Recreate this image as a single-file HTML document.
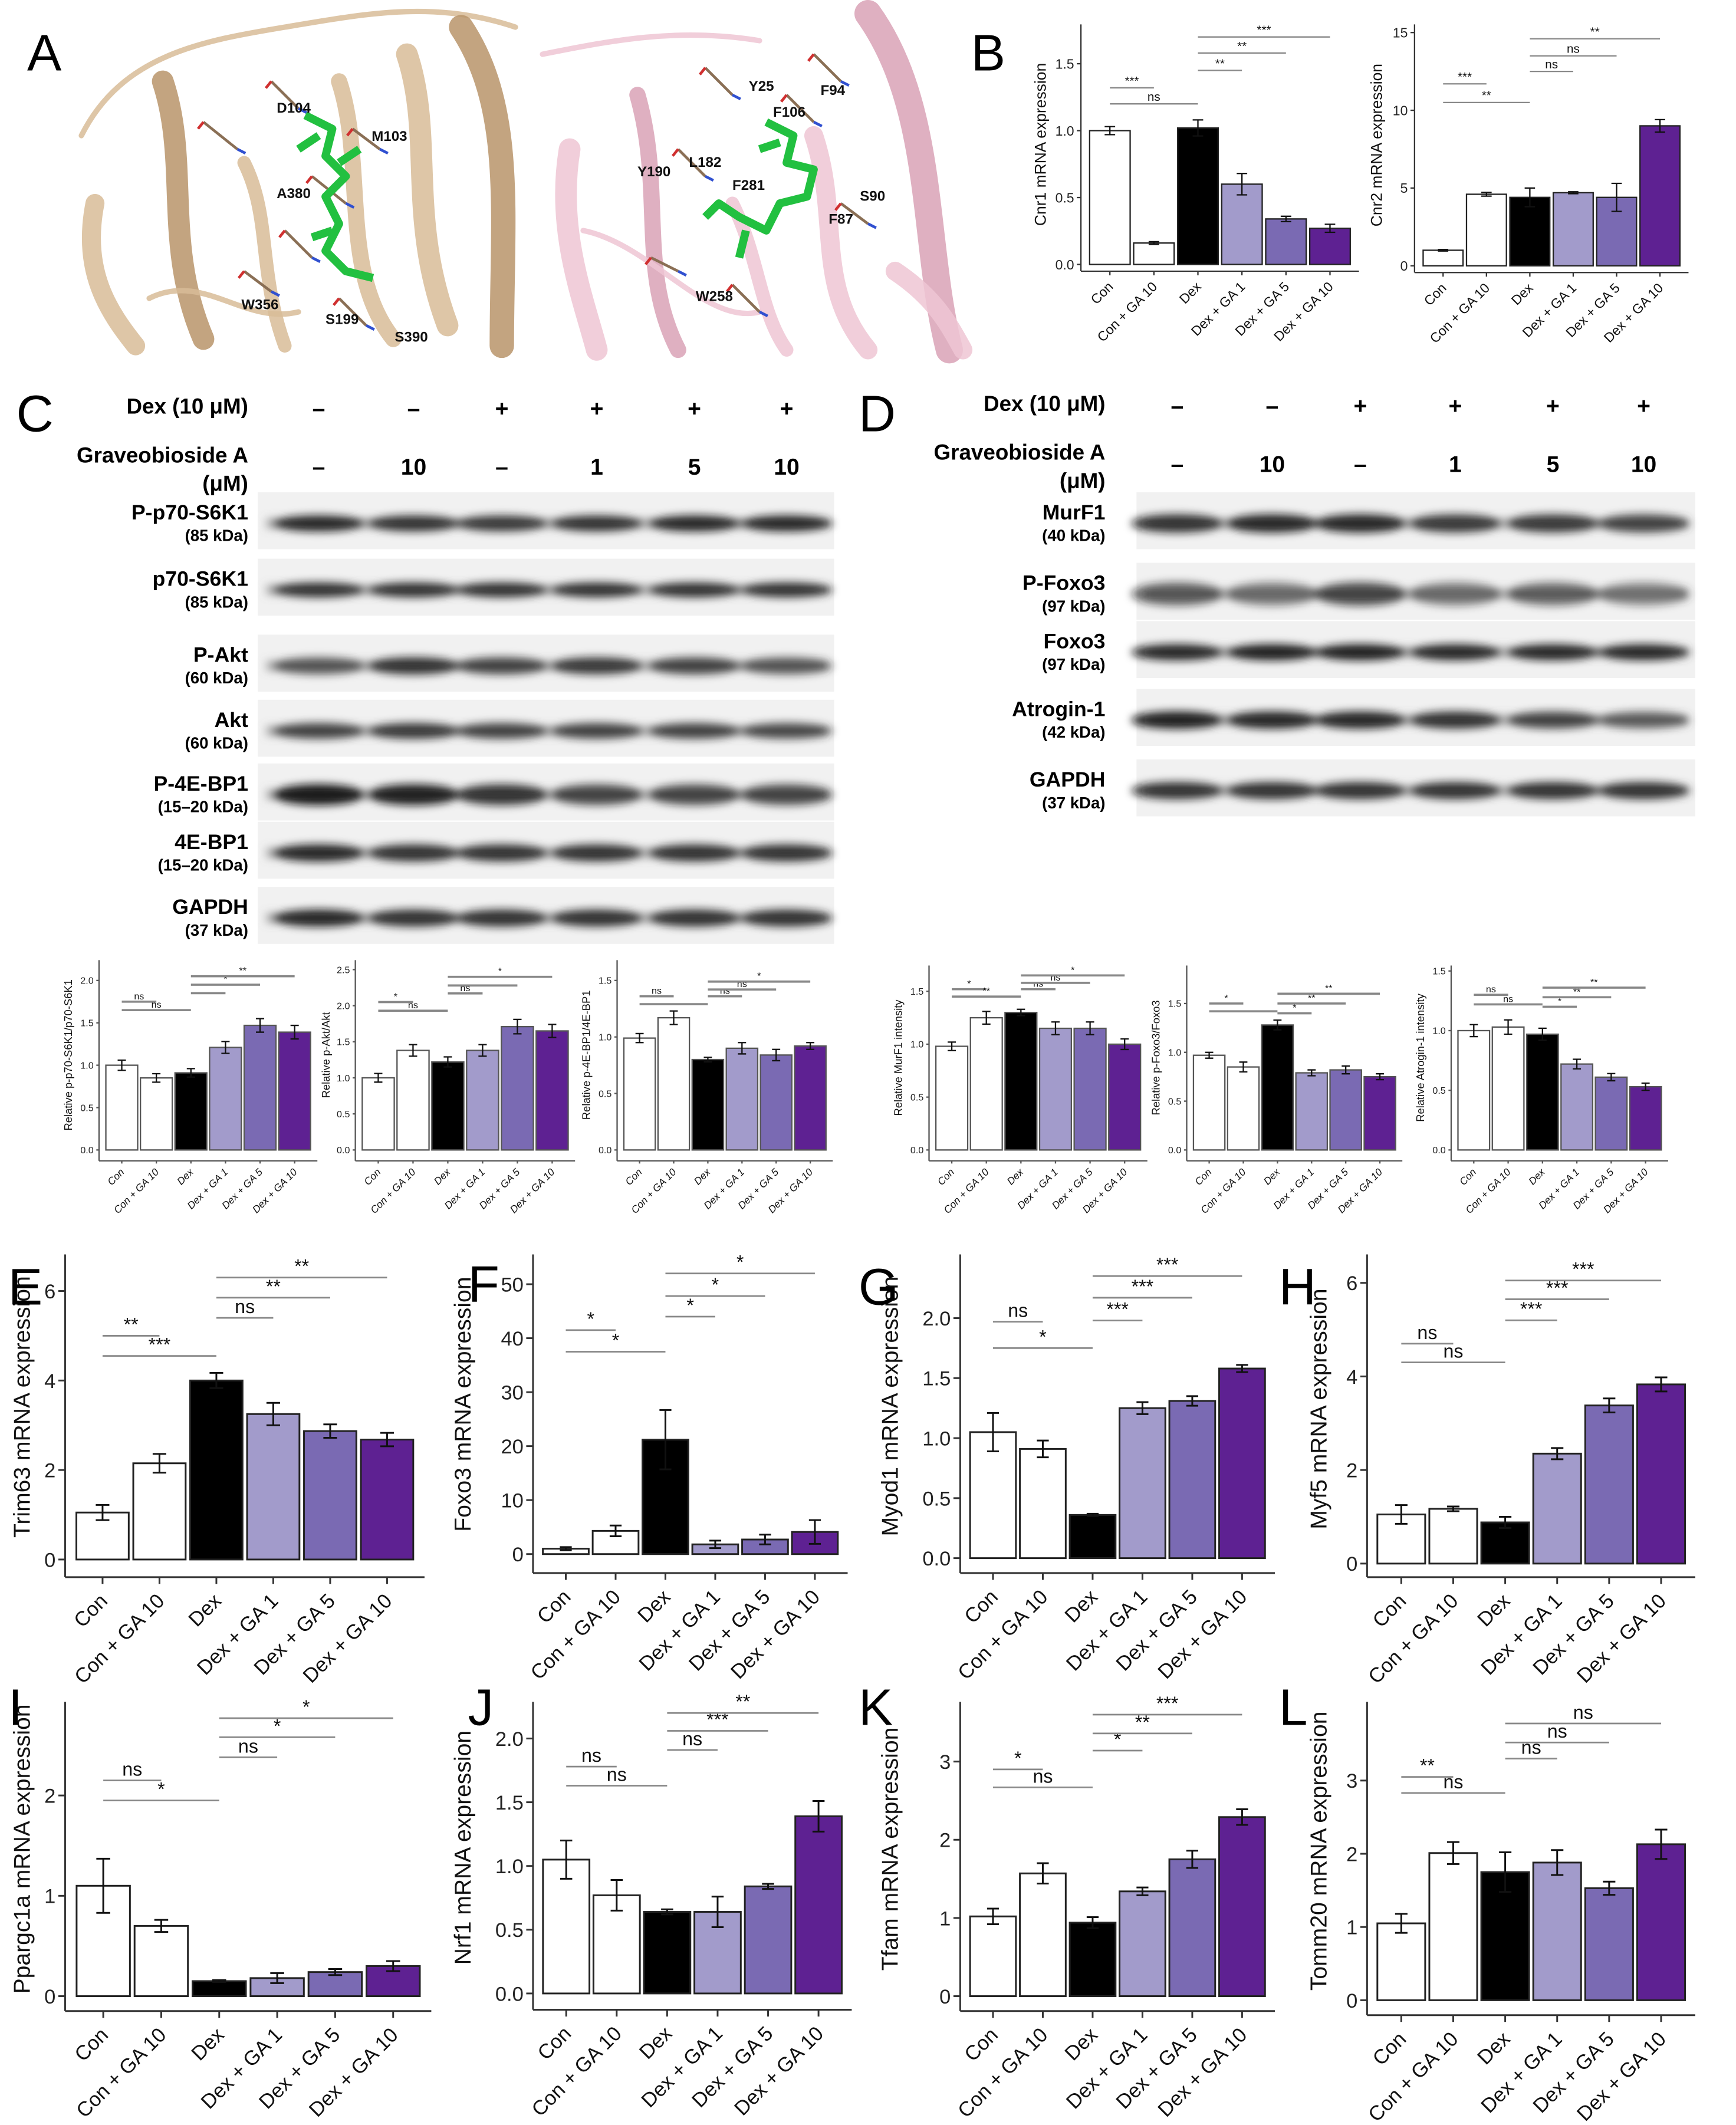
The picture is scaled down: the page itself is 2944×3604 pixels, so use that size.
<!DOCTYPE html>
<html><head><meta charset="utf-8"><style>
html,body{margin:0;padding:0;background:#fff}
svg{display:block}
text{font-family:"Liberation Sans",sans-serif}
</style></head><body>
<svg id="fig" xmlns="http://www.w3.org/2000/svg" width="2944" height="3604" viewBox="0 0 1280 1567">
<defs>
<filter id="blur3" x="-50%" y="-100%" width="200%" height="300%"><feGaussianBlur stdDeviation="3"/></filter>
</defs>
<rect width="1280" height="1567" fill="#fff"/>
<g id="panelA"></g>
<g id="blots"></g>
<g id="charts"></g>
<g id="letters"></g>
</svg>
<script>
const categories = ["Con","Con + GA 10","Dex","Dex + GA 1","Dex + GA 5","Dex + GA 10"];
const barColors = ["#ffffff","#ffffff","#000000","#a29bcb","#7a6ab3","#5e2192"];

// Panel B
const cnr1Values=[1.0,0.16,1.02,0.6,0.34,0.27];
const cnr1Errors=[0.03,0.01,0.06,0.08,0.02,0.03];
const cnr1Ticks=[0,0.5,1.0,1.5];
const cnr1Sig=[[0,1,1.32,"***"],[0,2,1.20,"ns"],[2,3,1.45,"**"],[2,4,1.58,"**"],[2,5,1.7,"***"]];
const cnr2Values=[1.0,4.6,4.4,4.7,4.4,9.0];
const cnr2Errors=[0.05,0.12,0.6,0.06,0.9,0.4];
const cnr2Ticks=[0,5,10,15];
const cnr2Sig=[[0,1,11.7,"***"],[0,2,10.5,"**"],[2,3,12.5,"ns"],[2,4,13.5,"ns"],[2,5,14.6,"**"]];
// Panel C quantification
const c1Values=[1.0,0.85,0.91,1.21,1.47,1.39];
const c1Errors=[0.06,0.05,0.05,0.07,0.08,0.08];
const c1Ticks=[0,0.5,1.0,1.5,2.0];
const c1Sig=[[0,1,1.75,"ns"],[0,2,1.65,"ns"],[2,3,1.85,""],[2,4,1.95,"*"],[2,5,2.05,"**"]];
const c2Values=[1.0,1.38,1.22,1.38,1.71,1.65];
const c2Errors=[0.06,0.08,0.07,0.08,0.1,0.09];
const c2Ticks=[0,0.5,1.0,1.5,2.0,2.5];
const c2Sig=[[0,1,2.05,"*"],[0,2,1.93,"ns"],[2,3,2.17,"ns"],[2,4,2.28,""],[2,5,2.4,"*"]];
const c3Values=[0.99,1.17,0.8,0.9,0.84,0.92];
const c3Errors=[0.04,0.06,0.02,0.05,0.05,0.03];
const c3Ticks=[0,0.5,1.0,1.5];
const c3Sig=[[0,1,1.36,"ns"],[0,2,1.29,""],[2,3,1.36,"ns"],[2,4,1.42,"ns"],[2,5,1.49,"*"]];
// Panel D quantification
const d1Values=[0.98,1.25,1.3,1.15,1.15,1.0];
const d1Errors=[0.04,0.06,0.03,0.06,0.06,0.05];
const d1Ticks=[0,0.5,1.0,1.5];
const d1Sig=[[0,1,1.52,"*"],[0,2,1.45,"**"],[2,3,1.52,"ns"],[2,4,1.58,"ns"],[2,5,1.65,"*"]];
const d2Values=[0.97,0.85,1.28,0.79,0.82,0.75];
const d2Errors=[0.03,0.05,0.05,0.03,0.04,0.03];
const d2Ticks=[0,0.5,1.0,1.5];
const d2Sig=[[0,1,1.5,"*"],[0,2,1.42,""],[2,3,1.4,"*"],[2,4,1.5,"**"],[2,5,1.6,"**"]];
const d3Values=[1.0,1.03,0.97,0.72,0.61,0.53];
const d3Errors=[0.05,0.06,0.05,0.04,0.03,0.03];
const d3Ticks=[0,0.5,1.0,1.5];
const d3Sig=[[0,1,1.3,"ns"],[0,2,1.22,"ns"],[2,3,1.2,"*"],[2,4,1.28,"**"],[2,5,1.36,"**"]];
// E-H
const eValues=[1.05,2.15,4.0,3.25,2.87,2.68];
const eErrors=[0.17,0.21,0.17,0.25,0.15,0.15];
const eTicks=[0,2,4,6];
const eSig=[[0,1,5.0,"**"],[0,2,4.55,"***"],[2,3,5.4,"ns"],[2,4,5.85,"**"],[2,5,6.3,"**"]];
const fValues=[1.0,4.3,21.2,1.8,2.7,4.1];
const fErrors=[0.3,1.0,5.5,0.7,0.9,2.2];
const fTicks=[0,10,20,30,40,50];
const fSig=[[0,1,41.5,"*"],[0,2,37.5,"*"],[2,3,44,"*"],[2,4,47.8,"*"],[2,5,52,"*"]];
const gValues=[1.05,0.91,0.36,1.25,1.31,1.58];
const gErrors=[0.16,0.07,0.01,0.05,0.04,0.03];
const gTicks=[0,0.5,1.0,1.5,2.0];
const gSig=[[0,1,1.97,"ns"],[0,2,1.75,"*"],[2,3,1.98,"***"],[2,4,2.17,"***"],[2,5,2.35,"***"]];
const hValues=[1.05,1.17,0.88,2.35,3.38,3.83];
const hErrors=[0.2,0.05,0.12,0.12,0.15,0.15];
const hTicks=[0,2,4,6];
const hSig=[[0,1,4.7,"ns"],[0,2,4.3,"ns"],[2,3,5.2,"***"],[2,4,5.65,"***"],[2,5,6.05,"***"]];
// I-L
const iValues=[1.1,0.7,0.15,0.18,0.24,0.3];
const iErrors=[0.27,0.06,0.01,0.05,0.03,0.05];
const iTicks=[0,1,2];
const iSig=[[0,1,2.15,"ns"],[0,2,1.95,"*"],[2,3,2.38,"ns"],[2,4,2.58,"*"],[2,5,2.77,"*"]];
const jValues=[1.05,0.77,0.64,0.64,0.84,1.39];
const jErrors=[0.15,0.12,0.02,0.12,0.02,0.12];
const jTicks=[0,0.5,1.0,1.5,2.0];
const jSig=[[0,1,1.78,"ns"],[0,2,1.63,"ns"],[2,3,1.91,"ns"],[2,4,2.06,"***"],[2,5,2.2,"**"]];
const kValues=[1.02,1.57,0.94,1.34,1.75,2.29];
const kErrors=[0.1,0.13,0.07,0.05,0.11,0.1];
const kTicks=[0,1,2,3];
const kSig=[[0,1,2.9,"*"],[0,2,2.67,"ns"],[2,3,3.14,"*"],[2,4,3.36,"**"],[2,5,3.6,"***"]];
const lValues=[1.05,2.01,1.75,1.88,1.53,2.13];
const lErrors=[0.13,0.15,0.27,0.17,0.09,0.2];
const lTicks=[0,1,2,3];
const lSig=[[0,1,3.05,"**"],[0,2,2.83,"ns"],[2,3,3.3,"ns"],[2,4,3.52,"ns"],[2,5,3.78,"ns"]];

const NS="http://www.w3.org/2000/svg";
function el(tag,attrs,parent,txt){const e=document.createElementNS(NS,tag);for(const k in attrs)e.setAttribute(k,attrs[k]);if(txt!==undefined)e.textContent=txt;parent.appendChild(e);return e;}
const chartsG=document.getElementById('charts');

function fmt(v,ticks){const dec=ticks.some(t=>t%1!==0);return dec?v.toFixed(1):String(v);}

function drawChart(name,L,values,errors,ticks,sigs,ylabel,S){
  const g=el('g',{},chartsG);
  
  
  const tmax=ticks[ticks.length-1];
  const ppu=(L.y0-L.ytop)/tmax;
  const Y=v=>L.y0-v*ppu;
  const pad=(L.right-L.ax)*0.025;
  const band=(L.right-L.ax-2*pad)/values.length;
  const X=i=>L.ax+pad+band*(i+0.5);
  const bw=band*0.92;
  const ac=S.axisColor||'#333';
  const ya=el('line',{x1:L.ax,y1:L.top,x2:L.ax,y2:L.bottom,stroke:ac,'stroke-width':S.aw},g);
  
  const xa=el('line',{x1:L.ax,y1:L.bottom,x2:L.right,y2:L.bottom,stroke:ac,'stroke-width':S.aw},g);
  
  ticks.forEach(t=>{
    el('line',{x1:L.ax-S.tl,y1:Y(t),x2:L.ax,y2:Y(t),stroke:ac,'stroke-width':S.aw},g);
    const tt=el('text',{x:L.ax-S.tl-2,y:Y(t)+S.tf*0.36,'font-size':S.tf,'text-anchor':'end',fill:'#222'},g,fmt(t,ticks));
    
  });
  values.forEach((v,i)=>{
    const r=el('rect',{x:X(i)-bw/2,y:Y(v),width:bw,height:v*ppu,fill:barColors[i],stroke:S.barStroke||'#222','stroke-width':S.bs},g);
    
    
    const e=errors[i],cw=bw*0.13;
    const eb=el('path',{d:`M${X(i)},${Y(v+e)}V${Y(v-e)}M${X(i)-cw},${Y(v+e)}H${X(i)+cw}M${X(i)-cw},${Y(v-e)}H${X(i)+cw}`,stroke:'#111',fill:'none','stroke-width':S.bs},g);
    
    el('line',{x1:X(i),y1:L.bottom,x2:X(i),y2:L.bottom+S.tl,stroke:ac,'stroke-width':S.aw},g);
    const cx=X(i)+S.cf*0.3,cy=L.bottom+S.tl+S.cf*0.9;
    const ct=el('text',{x:cx,y:cy,'font-size':S.cf,'text-anchor':'end',fill:'#111','font-style':S.italic?'italic':'normal',transform:`rotate(-45 ${cx} ${cy})`},g,categories[i]);
    
  });
  sigs.forEach(s=>{
    const ln=el('line',{x1:X(s[0]),y1:Y(s[2]),x2:X(s[1]),y2:Y(s[2]),stroke:'#888','stroke-width':S.sw},g);
    
    if(s[3]){const lt=el('text',{x:(X(s[0])+X(s[1]))/2,y:Y(s[2])-S.sf*0.25,'font-size':S.sf,'text-anchor':'middle',fill:'#111'},g,s[3]);
    }
  });
  const yc=(L.top+L.y0)/2;
  const yl=el('text',{x:L.ylx,y:yc,'font-size':S.yf,'text-anchor':'middle',fill:'#111',transform:`rotate(-90 ${L.ylx} ${yc})`},g,ylabel);
  
}

const big={aw:1.3,tl:5,tf:15,cf:15,bs:1.3,sw:1.2,sf:14,yf:17};
const mid={aw:1,tl:3,tf:10,cf:10,bs:1,sw:1,sf:9,yf:11.5};
const sm={aw:1,tl:2,tf:7,cf:7.5,bs:1,sw:1.6,sf:7,yf:8,italic:true,axisColor:'#555',barStroke:'#555'};

drawChart('chart-cnr1',{ax:797,right:1002,y0:195,ytop:47,top:18,bottom:200,ylx:771},cnr1Values,cnr1Errors,cnr1Ticks,cnr1Sig,"Cnr1 mRNA expression",mid);
drawChart('chart-cnr2',{ax:1043,right:1245,y0:196,ytop:24,top:18,bottom:201,ylx:1019},cnr2Values,cnr2Errors,cnr2Ticks,cnr2Sig,"Cnr2 mRNA expression",mid);

drawChart('chart-p-p70s6k1',{ax:73,right:234,y0:848,ytop:723,top:708,bottom:856,ylx:53},c1Values,c1Errors,c1Ticks,c1Sig,"Relative p-p70-S6K1/p70-S6K1",sm);
drawChart('chart-p-akt',{ax:262,right:424,y0:848,ytop:715,top:708,bottom:856,ylx:243},c2Values,c2Errors,c2Ticks,c2Sig,"Relative p-Akt/Akt",sm);
drawChart('chart-p-4ebp1',{ax:455,right:614,y0:848,ytop:723,top:708,bottom:856,ylx:435},c3Values,c3Errors,c3Ticks,c3Sig,"Relative p-4E-BP1/4E-BP1",sm);
drawChart('chart-murf1',{ax:685,right:846,y0:848,ytop:731,top:712,bottom:856,ylx:665},d1Values,d1Errors,d1Ticks,d1Sig,"Relative MurF1 intensity",sm);
drawChart('chart-p-foxo3',{ax:875,right:1034,y0:848,ytop:740,top:712,bottom:856,ylx:855},d2Values,d2Errors,d2Ticks,d2Sig,"Relative p-Foxo3/Foxo3",sm);
drawChart('chart-atrogin1',{ax:1070,right:1230,y0:848,ytop:716,top:712,bottom:856,ylx:1050},d3Values,d3Errors,d3Ticks,d3Sig,"Relative Atrogin-1 intensity",sm);

drawChart('chart-trim63',{ax:48,right:313,y0:1150,ytop:952,top:925,bottom:1163,ylx:22},eValues,eErrors,eTicks,eSig,"Trim63 mRNA expression",big);
drawChart('chart-foxo3',{ax:393,right:625,y0:1146,ytop:947,top:925,bottom:1160,ylx:347},fValues,fErrors,fTicks,fSig,"Foxo3 mRNA expression",big);
drawChart('chart-myod1',{ax:708,right:940,y0:1149,ytop:972,top:925,bottom:1160,ylx:662},gValues,gErrors,gTicks,gSig,"Myod1 mRNA expression",big);
drawChart('chart-myf5',{ax:1008,right:1250,y0:1153,ytop:946,top:925,bottom:1163,ylx:978},hValues,hErrors,hTicks,hSig,"Myf5 mRNA expression",big);

drawChart('chart-ppargc1a',{ax:48,right:318,y0:1472,ytop:1324,top:1255,bottom:1483,ylx:22},iValues,iErrors,iTicks,iSig,"Ppargc1a mRNA expression",big);
drawChart('chart-nrf1',{ax:393,right:628,y0:1470,ytop:1282,top:1255,bottom:1482,ylx:347},jValues,jErrors,jTicks,jSig,"Nrf1 mRNA expression",big);
drawChart('chart-tfam',{ax:708,right:940,y0:1472,ytop:1299,top:1255,bottom:1483,ylx:662},kValues,kErrors,kTicks,kSig,"Tfam mRNA expression",big);
drawChart('chart-tomm20',{ax:1008,right:1250,y0:1475,ytop:1313,top:1255,bottom:1486,ylx:978},lValues,lErrors,lTicks,lSig,"Tomm20 mRNA expression",big);

// Western blots
const blotG=document.getElementById('blots');
const cDex=["–","–","+","+","+","+"], cGA=["–","10","–","1","5","10"];
const cCols=[235,305,370,440,512,580];
const dCols=[868,938,1003,1073,1145,1212];
const cRows=[["P-p70-S6K1","(85 kDa)",385,[.85,.8,.75,.8,.85,.85],14],["p70-S6K1","(85 kDa)",434,[.8,.8,.8,.8,.8,.8],13],["P-Akt","(60 kDa)",490,[.6,.8,.7,.75,.7,.6],15],["Akt","(60 kDa)",538,[.7,.75,.7,.7,.7,.65],14],["P-4E-BP1","(15–20 kDa)",585,[.95,.9,.8,.7,.7,.7],18],["4E-BP1","(15–20 kDa)",628,[.85,.8,.8,.8,.8,.8],15],["GAPDH","(37 kDa)",676,[.85,.8,.8,.8,.8,.8],15]];
const dRows=[["MurF1","(40 kDa)",385,[.8,.85,.85,.75,.75,.7],16],["P-Foxo3","(97 kDa)",437,[.6,.5,.7,.5,.55,.45],20],["Foxo3","(97 kDa)",480,[.85,.9,.9,.85,.85,.85],14],["Atrogin-1","(42 kDa)",530,[.9,.85,.85,.8,.7,.55],15],["GAPDH","(37 kDa)",582,[.8,.8,.8,.8,.8,.8],15]];
function blot(name,headX,cols,headY,rows,stripX,stripW){
  const g=el('g',{},blotG);
  
  
  el('text',{x:headX,y:headY,'font-size':16,'font-weight':'bold','text-anchor':'end'},g,"Dex (10 μM)");
  el('text',{x:headX,y:headY+36,'font-size':16,'font-weight':'bold','text-anchor':'end'},g,"Graveobioside A");
  el('text',{x:headX,y:headY+57,'font-size':16,'font-weight':'bold','text-anchor':'end'},g,"(μM)");
  cols.forEach((x,i)=>{
    el('text',{x:x,y:headY+2,'font-size':17,'font-weight':'bold','text-anchor':'middle'},g,cDex[i]);
    el('text',{x:x,y:headY+45,'font-size':17,'font-weight':'bold','text-anchor':'middle'},g,cGA[i]);
  });
  rows.forEach(r=>{
    const t1=el('text',{x:headX,y:r[2]-2,'font-size':15.5,'font-weight':'bold','text-anchor':'end'},g,r[0]);
    
    el('text',{x:headX,y:r[2]+14,'font-size':12,'font-weight':'bold','text-anchor':'end'},g,r[1]);
    el('rect',{x:stripX,y:r[2]-22,width:stripW,height:42,fill:'#f1f1f1'},g);
    const bands=el('g',{filter:'url(#blur3)'},g);
    
    el('rect',{x:stripX+6,y:r[2]-3,width:stripW-12,height:8,fill:'#777',opacity:0.5},bands);
    cols.forEach((x,i)=>{el('ellipse',{cx:x,cy:r[2]+1,rx:34,ry:r[4]/2.3,fill:'#111',opacity:r[3][i]},bands);});
  });
}
blot('blot-panel-c',183,cCols,305,cRows,190,425);
blot('blot-panel-d',815,dCols,303,dRows,838,412);

// Panel A protein structures
const A=document.getElementById('panelA');
function ribbon(d,c,w){el('path',{d:d,stroke:c,'stroke-width':w,fill:'none','stroke-linecap':'round',opacity:0.85},A);}
const tan='#d8bc98',tanD='#b8946a',pink='#efc6d4',pinkD='#d9a2b6';
[["M60,100 C90,40 150,30 210,20 S320,0 380,20",tan,4],["M70,150 C60,200 80,230 100,255",tan,14],["M120,60 C140,120 120,180 150,250",tanD,16],["M300,40 C320,100 300,160 330,240",tan,16],["M340,20 C380,80 370,160 370,255",tanD,18],["M180,120 C200,160 190,200 210,255",tan,10],["M250,60 C270,120 250,200 290,250",tan,12],["M110,220 C150,200 180,240 220,230",tan,4]].forEach(a=>ribbon(...a));
[["M400,40 C450,30 500,20 560,30",pink,4],["M420,110 C410,170 430,220 440,258",pink,16],["M470,70 C490,140 470,200 500,258",pinkD,12],["M640,10 C690,80 680,180 700,258",pinkD,20],["M600,100 C620,160 600,210 640,258",pink,14],["M660,200 C690,220 700,240 710,258",pink,14],["M430,170 C480,180 520,240 560,230",pink,4],["M540,150 C560,190 560,230 580,258",pink,10]].forEach(a=>ribbon(...a));
const stk=[[150,90,175,110],[200,60,220,80],[260,95,280,110],[230,130,255,150],[180,200,200,215],[250,220,270,240],[210,170,230,190],[520,50,540,70],[580,70,600,90],[500,110,520,130],[480,190,500,200],[620,150,640,165],[540,210,560,230],[600,40,620,60]];
stk.forEach(s=>{el('line',{x1:s[0],y1:s[1],x2:s[2],y2:s[3],stroke:'#8a6f55','stroke-width':2},A);el('line',{x1:s[2],y1:s[3],x2:s[2]+6,y2:s[3]+3,stroke:'#3050d0','stroke-width':2},A);el('line',{x1:s[0],y1:s[1],x2:s[0]-4,y2:s[1]+5,stroke:'#d03030','stroke-width':2},A);});
el('path',{d:"M225,85 L245,95 L240,115 L255,130 L240,145 L250,165 L240,185 L255,200 L275,205 M235,100 L220,110 M250,120 L265,110 M245,170 L230,175",stroke:'#22c040','stroke-width':6,fill:'none','stroke-linejoin':'round'},A);
el('path',{d:"M565,90 L585,100 L580,120 L600,125 L595,145 L575,150 L565,170 L545,160 L530,150 L520,160 M575,105 L560,110 M550,170 L545,190",stroke:'#22c040','stroke-width':6,fill:'none','stroke-linejoin':'round'},A);
[["D104",204,83],["M103",274,104],["A380",204,146],["W356",178,228],["S199",240,239],["S390",291,252],["Y25",552,67],["F106",570,86],["F94",605,70],["L182",508,123],["Y190",470,130],["F281",540,140],["S90",634,148],["F87",611,165],["W258",513,222]].forEach(l=>{const t=el('text',{x:l[1],y:l[2],'font-size':10.5,'font-weight':'bold',fill:'#111'},A,l[0]);});

// letters
const LT=document.getElementById('letters');
[["A",20,52],["B",716,52],["C",12,318],["D",633,318],["E",6,962],["F",345,960],["G",633,962],["H",943,962],["I",6,1272],["J",345,1272],["K",633,1272],["L",943,1272]].forEach(p=>{const t=el('text',{x:p[1],y:p[2],'font-size':38,fill:'#000'},LT,p[0]);});
</script>
</body></html>
